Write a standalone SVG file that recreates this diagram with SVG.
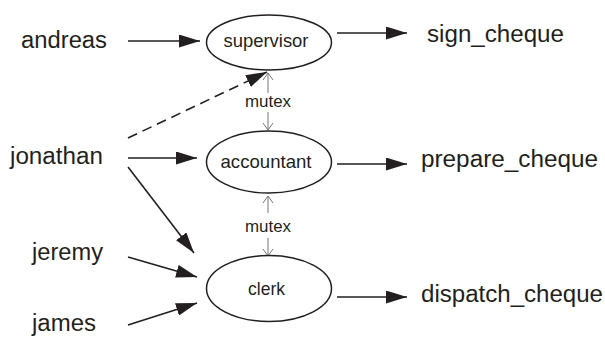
<svg xmlns="http://www.w3.org/2000/svg" width="605" height="341" viewBox="0 0 605 341">
<style>
text{font-family:"Liberation Sans",Arial,sans-serif;fill:#231f20}
.lbl{font-size:23px}
.nd{font-size:19px;text-anchor:middle}
.mx{font-size:16px;text-anchor:middle}
ellipse{fill:#fff;stroke:#231f20;stroke-width:1.5}
.a{stroke:#231f20;stroke-width:1.6;fill:none;marker-end:url(#ah)}
.d{stroke-dasharray:10 6}
.m{stroke:#777;stroke-width:1;fill:none;marker-end:url(#v)}
</style>
<defs>
<marker id="ah" markerWidth="21" markerHeight="13" refX="21" refY="6.5" orient="auto" markerUnits="userSpaceOnUse"><path d="M0,0 L21,6.5 L0,13 z" fill="#231f20"/></marker>
<marker id="v" markerWidth="8" markerHeight="12" refX="7" refY="6" orient="auto" markerUnits="userSpaceOnUse"><path d="M0,1 L7,6 L0,11" fill="none" stroke="#777" stroke-width="1"/></marker>
</defs>
<rect width="605" height="341" fill="#fff"/>
<g id="connectors">
<line class="a" x1="128" y1="41" x2="200" y2="41"/>
<line class="a" x1="128" y1="158" x2="197" y2="158"/>
<line class="a" x1="128" y1="167" x2="194" y2="253"/>
<line class="a" x1="128" y1="257" x2="197" y2="277"/>
<line class="a" x1="128" y1="325" x2="197" y2="303"/>
<line class="a d" x1="128" y1="138" x2="267" y2="72"/>
<line class="a" x1="337" y1="33" x2="407" y2="33"/>
<line class="a" x1="337" y1="164" x2="407" y2="164"/>
<line class="a" x1="337" y1="297" x2="407" y2="297"/>
<line class="m" x1="268" y1="93" x2="268" y2="73"/>
<line class="m" x1="268" y1="112" x2="268" y2="130"/>
<text class="mx" x="268" y="107" textLength="46" lengthAdjust="spacingAndGlyphs">mutex</text>
<line class="m" x1="268" y1="213" x2="268" y2="196"/>
<line class="m" x1="268" y1="238" x2="268" y2="256"/>
<text class="mx" x="268" y="232" textLength="46" lengthAdjust="spacingAndGlyphs">mutex</text>
</g>
<g id="andreas"><text class="lbl" x="21" y="48" textLength="86" lengthAdjust="spacingAndGlyphs">andreas</text></g>
<g id="jonathan"><text class="lbl" x="10" y="164" textLength="93" lengthAdjust="spacingAndGlyphs">jonathan</text></g>
<g id="jeremy"><text class="lbl" x="32" y="260" textLength="71" lengthAdjust="spacingAndGlyphs">jeremy</text></g>
<g id="james"><text class="lbl" x="32" y="331" textLength="64" lengthAdjust="spacingAndGlyphs">james</text></g>
<g id="supervisor"><ellipse cx="269" cy="42.5" rx="62.5" ry="27.5"/><text class="nd" x="266" y="47" textLength="85" lengthAdjust="spacingAndGlyphs">supervisor</text></g>
<g id="accountant"><ellipse cx="269" cy="162" rx="62.5" ry="31"/><text class="nd" x="266" y="168" textLength="91" lengthAdjust="spacingAndGlyphs">accountant</text></g>
<g id="clerk"><ellipse cx="269" cy="288.5" rx="62.5" ry="33"/><text class="nd" x="266.5" y="295" textLength="37" lengthAdjust="spacingAndGlyphs">clerk</text></g>
<g id="sign_cheque"><text class="lbl" x="427" y="42" textLength="137" lengthAdjust="spacingAndGlyphs">sign_cheque</text></g>
<g id="prepare_cheque"><text class="lbl" x="421" y="167" textLength="177" lengthAdjust="spacingAndGlyphs">prepare_cheque</text></g>
<g id="dispatch_cheque"><text class="lbl" x="421" y="302" textLength="182" lengthAdjust="spacingAndGlyphs">dispatch_cheque</text></g>
</svg>
